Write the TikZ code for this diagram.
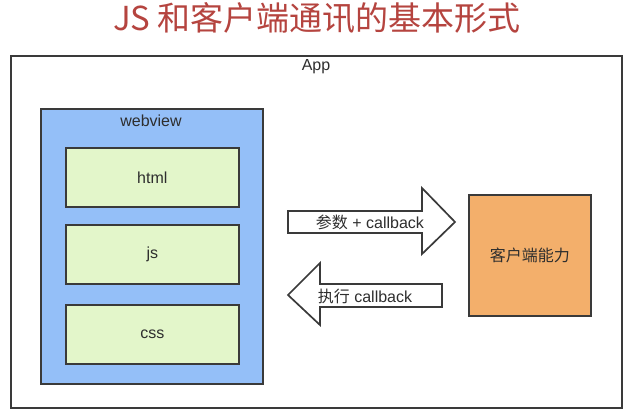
\documentclass[tikz,border=0pt]{standalone}
\usepackage{fontspec}
\setmainfont{Liberation Sans}
\newfontfamily\cjk{Noto Sans CJK SC}
\usetikzlibrary{calc}
\definecolor{titlered}{HTML}{B5443F}
\definecolor{boxline}{HTML}{3A3A3A}
\definecolor{webblue}{HTML}{94BFF8}
\definecolor{partgreen}{HTML}{E3F6CA}
\definecolor{clientorange}{HTML}{F3AF6B}

\begin{document}
\begin{tikzpicture}[x=1pt,y=-1pt,
    box/.style={draw=boxline,line width=1.7pt,anchor=north west,inner sep=0pt},
    part/.style={box,fill=partgreen,minimum width=173pt,minimum height=59pt},
    lbl/.style={text=black!82,font=\fontsize{16}{19}\selectfont},
    blockarrow/.style={draw=boxline,line width=1.7pt,fill=white,line join=miter}]
    \useasboundingbox (0,0) rectangle (631,417);
    \node[text=titlered,font=\cjk\fontsize{33}{36}\selectfont] (title) at (317,18) {JS 和客户端通讯的基本形式};
    % outer app frame
    \node[box,minimum width=611pt,minimum height=352pt] (app) at (10,55) {};
    \node[lbl] (applbl) at (316,67) {App};
    % webview and its parts
    \node[box,fill=webblue,minimum width=222pt,minimum height=275pt] (webview) at (40,108) {};
    \node[lbl] (weblbl) at (151,121) {webview};
    \node[part] (html) at (65,147) {};
    \node[part] (js) at (65,224) {};
    \node[part] (css) at (65,304) {};
    \node[lbl] at (html.center) {html};
    \node[lbl] at (js.center) {js};
    \node[lbl] at (css.center) {css};
    % client side
    \node[box,fill=clientorange,minimum width=122pt,minimum height=121pt] (client) at (468,194) {};
    \node[lbl] at (client.center) {\cjk 客户端能力};
    % the two block arrows
    \draw[blockarrow] (288,211) --++ (134,0) --++ (0,-23) --++ (33,34) --++ (-33,32) --++ (0,-21) --++ (-134,0) -- cycle;
    \node[lbl] (send) at (370,222) {{\cjk 参数} + callback};
    \draw[blockarrow] (442,284) --++ (-122,0) --++ (0,-21) --++ (-32,32) --++ (32,30) --++ (0,-18) --++ (122,0) -- cycle;
    \node[lbl] (back) at (365,296) {{\cjk 执行} callback};
\end{tikzpicture}
\end{document}
